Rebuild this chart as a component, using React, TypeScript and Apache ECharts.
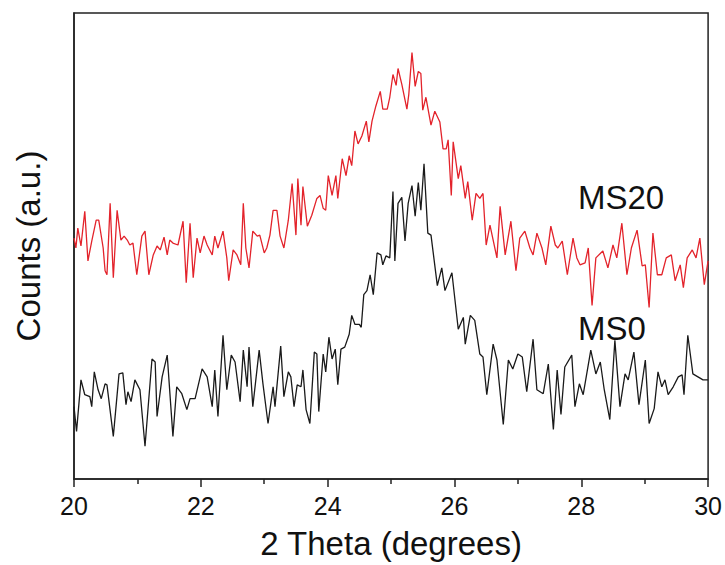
import React, { useEffect, useRef } from "react";
import * as echarts from "echarts";

// 2θ (degrees) and intensity (a.u.)
const ms0Theta = [20.00,20.04,20.11,20.17,20.25,20.28,20.32,20.38,20.43,20.49,20.52,20.62,20.71,20.77,20.82,20.85,20.90,20.96,21.04,21.12,21.23,21.28,21.31,21.39,21.47,21.56,21.62,21.70,21.78,21.83,21.91,22.02,22.10,22.18,22.22,22.27,22.35,22.41,22.48,22.54,22.62,22.67,22.73,22.76,22.82,22.92,22.98,23.06,23.14,23.17,23.26,23.31,23.38,23.42,23.47,23.52,23.58,23.61,23.66,23.72,23.79,23.83,23.86,23.93,23.97,24.02,24.07,24.12,24.16,24.21,24.27,24.34,24.38,24.43,24.50,24.53,24.57,24.62,24.67,24.72,24.78,24.84,24.87,24.92,24.98,25.03,25.06,25.11,25.17,25.22,25.27,25.33,25.38,25.43,25.47,25.52,25.58,25.63,25.73,25.80,25.85,25.96,26.06,26.14,26.17,26.25,26.32,26.40,26.45,26.51,26.61,26.67,26.77,26.85,26.92,27.00,27.07,27.14,27.24,27.30,27.40,27.48,27.56,27.62,27.68,27.74,27.85,27.90,27.97,28.03,28.15,28.23,28.30,28.36,28.45,28.53,28.61,28.69,28.74,28.83,28.91,29.01,29.07,29.15,29.21,29.27,29.32,29.37,29.45,29.53,29.59,29.62,29.68,29.76,29.84,29.92,30.00];
const ms0Counts = [73,48,100,85,83,73,108,90,81,96,95,43,106,107,75,88,78,100,90,33,121,118,63,103,125,43,93,86,70,81,81,111,103,73,110,63,145,90,125,118,78,130,93,133,73,130,96,56,93,73,134,83,108,103,73,95,93,110,70,56,128,126,68,126,108,143,121,131,95,131,133,146,165,156,156,153,186,190,206,186,228,226,216,225,223,290,220,278,284,240,278,296,265,299,271,318,248,246,195,213,190,208,151,163,136,165,160,126,123,85,136,120,55,120,111,126,123,88,141,90,86,116,50,110,65,113,125,73,96,85,130,106,118,91,60,140,73,106,100,128,75,120,56,71,108,93,100,85,93,103,105,85,145,106,103,100,100];

const ms20Theta = [20.00,20.03,20.06,20.11,20.17,20.22,20.28,20.35,20.39,20.46,20.49,20.52,20.57,20.62,20.68,20.74,20.79,20.84,20.88,20.93,20.99,21.07,21.12,21.18,21.25,21.31,21.36,21.42,21.47,21.51,21.56,21.64,21.72,21.77,21.83,21.88,21.94,21.99,22.05,22.10,22.18,22.22,22.27,22.35,22.41,22.44,22.51,22.57,22.63,22.67,22.71,22.76,22.82,22.89,22.93,23.00,23.04,23.09,23.14,23.20,23.25,23.31,23.38,23.44,23.50,23.53,23.58,23.61,23.68,23.75,23.83,23.88,23.93,23.97,24.01,24.07,24.13,24.16,24.23,24.29,24.34,24.38,24.43,24.48,24.54,24.61,24.65,24.70,24.76,24.83,24.87,24.94,24.98,25.03,25.08,25.11,25.17,25.25,25.28,25.33,25.38,25.43,25.47,25.50,25.55,25.63,25.69,25.77,25.82,25.87,25.90,25.95,25.98,26.06,26.10,26.17,26.21,26.28,26.34,26.40,26.45,26.50,26.56,26.67,26.72,26.80,26.89,26.97,27.03,27.11,27.19,27.24,27.30,27.38,27.44,27.52,27.59,27.63,27.70,27.78,27.87,27.93,27.98,28.06,28.11,28.17,28.23,28.34,28.42,28.50,28.56,28.64,28.72,28.79,28.88,28.96,29.01,29.07,29.13,29.20,29.27,29.34,29.42,29.48,29.56,29.61,29.67,29.75,29.81,29.87,29.94,30.00];
const ms20Counts = [243,233,253,235,270,220,240,261,261,233,210,206,278,203,271,241,245,241,236,238,206,245,250,206,226,235,231,244,226,241,238,236,260,198,258,203,243,228,245,236,226,245,233,250,223,200,231,226,216,278,233,213,250,245,246,228,233,246,271,271,245,233,261,298,246,303,256,295,255,266,283,286,273,271,306,286,306,283,323,306,326,316,351,338,346,361,340,361,376,391,373,373,385,408,397,414,398,373,388,430,396,411,409,372,385,357,371,360,333,333,342,286,340,303,316,283,300,261,288,283,288,236,256,223,275,226,260,210,243,250,233,226,248,233,216,255,236,233,240,206,243,223,216,218,233,175,223,230,213,236,223,258,206,233,251,215,216,173,248,206,206,223,226,200,216,193,223,231,223,243,196,220];

const xTicks = [20, 22, 24, 26, 28, 30];
const seriesNames = ["MS0", "MS20"];

const FONT = "'Liberation Sans', Arial, Helvetica, sans-serif";

export default function App() {
  const ref = useRef<HTMLDivElement>(null);
  useEffect(() => {
    if (!ref.current) return;
    const chart = echarts.init(ref.current, undefined, { renderer: "svg" });
    const pair = (xs: number[], ys: number[]) => xs.map((x, i) => [x, ys[i]]);
    chart.setOption({
      animation: false,
      backgroundColor: "#ffffff",
      grid: {
        left: 74,
        right: 16,
        top: 13,
        bottom: 82,
        show: true,
        borderColor: "#222",
        borderWidth: 1.5,
      },
      xAxis: {
        type: "value",
        min: xTicks[0],
        max: xTicks[xTicks.length - 1],
        interval: 2,
        name: "2 Theta (degrees)",
        nameLocation: "middle",
        nameGap: 48,
        nameTextStyle: { fontFamily: FONT, fontSize: 33, color: "#111" },
        axisLine: { show: true, lineStyle: { color: "#222", width: 1.5 } },
        axisTick: { show: true, inside: false, length: 8, lineStyle: { color: "#222", width: 1.5 } },
        minorTick: { show: true, splitNumber: 2, length: 5, lineStyle: { color: "#222", width: 1.5 } },
        splitLine: { show: false },
        axisLabel: { fontFamily: FONT, fontSize: 25, color: "#111", margin: 14 },
      },
      yAxis: {
        type: "value",
        min: 0,
        max: 470,
        name: "Counts (a.u.)",
        nameLocation: "middle",
        nameGap: 29,
        nameTextStyle: { fontFamily: FONT, fontSize: 33, color: "#111" },
        axisLine: { show: true, lineStyle: { color: "#222", width: 1.5 } },
        axisTick: { show: false },
        axisLabel: { show: false },
        splitLine: { show: false },
      },
      series: [
        {
          name: seriesNames[0],
          type: "line",
          data: pair(ms0Theta, ms0Counts),
          showSymbol: false,
          symbol: "none",
          lineStyle: { color: "#1a1a1a", width: 1.3 },
        },
        {
          name: seriesNames[1],
          type: "line",
          data: pair(ms20Theta, ms20Counts),
          showSymbol: false,
          symbol: "none",
          lineStyle: { color: "#e3232b", width: 1.3 },
        },
      ],
      graphic: [
        {
          type: "text",
          left: 578,
          top: 181,
          style: { text: seriesNames[1], fontFamily: FONT, fontSize: 33, fill: "#111" },
        },
        {
          type: "text",
          left: 578,
          top: 312,
          style: { text: seriesNames[0], fontFamily: FONT, fontSize: 33, fill: "#111" },
        },
      ],
    });
    return () => chart.dispose();
  }, []);
  return (
    <div
      ref={ref}
      style={{ position: "fixed", left: 0, top: 0, width: 725, height: 565, background: "#fff" }}
    />
  );
}
